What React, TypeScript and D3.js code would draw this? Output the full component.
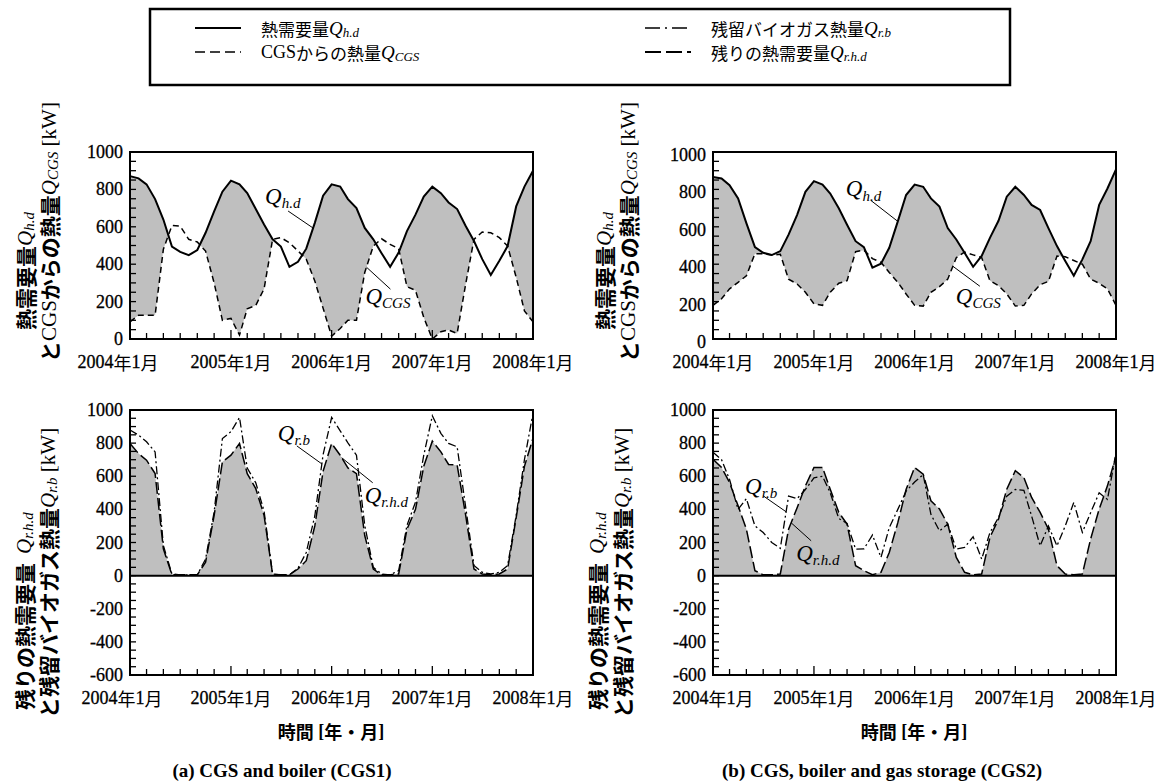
import React from 'react';
import * as d3 from 'd3';

// Monthly samples, January 2004 to January 2008 (49 points)
const months: Date[] = d3.timeMonth.range(new Date(2004, 0, 1), new Date(2008, 0, 2));
const yearLabels = ['2004', '2005', '2006', '2007', '2008'];
const topTickValues = [0, 200, 400, 600, 800, 1000];
const bottomTickValues = [-600, -400, -200, 0, 200, 400, 600, 800, 1000];

// (a) CGS and boiler
const heatDemandA = [871, 859, 827, 748, 639, 494, 466, 448, 476, 568, 683, 788, 847, 827, 780, 695, 612, 533, 494, 386, 413, 483, 621, 766, 827, 815, 748, 700, 594, 533, 459, 386, 462, 577, 665, 762, 815, 780, 730, 695, 607, 524, 427, 342, 418, 497, 709, 815, 900];
const cgsHeatA = [92, 127, 127, 127, 480, 607, 603, 533, 519, 470, 300, 100, 110, 21, 162, 180, 268, 533, 542, 515, 471, 427, 310, 165, 15, 56, 100, 100, 356, 497, 536, 506, 483, 280, 260, 115, 0, 39, 48, 30, 286, 533, 572, 568, 542, 497, 330, 150, 92];
const residualDemandA = [798, 737, 697, 616, 162, 5, 5, 5, 5, 81, 364, 687, 727, 798, 616, 525, 364, 8, 5, 5, 40, 90, 300, 630, 798, 727, 650, 616, 242, 40, 5, 5, 10, 280, 400, 660, 812, 747, 671, 667, 374, 40, 10, 5, 10, 40, 350, 660, 830];
const residualBiogasA = [879, 848, 808, 747, 182, 10, 5, 5, 5, 100, 384, 828, 869, 955, 650, 560, 390, 10, 5, 5, 45, 140, 360, 730, 955, 874, 802, 727, 303, 50, 10, 5, 30, 303, 444, 727, 965, 859, 798, 778, 424, 61, 20, 10, 20, 61, 364, 700, 980];

// (b) CGS, boiler and gas storage
const heatDemandB = [866, 858, 822, 752, 620, 491, 461, 449, 470, 558, 664, 787, 844, 826, 778, 699, 611, 523, 491, 382, 403, 488, 629, 770, 826, 814, 752, 708, 593, 532, 461, 386, 444, 541, 632, 761, 814, 770, 717, 690, 593, 497, 417, 338, 426, 523, 717, 805, 907];
const cgsHeatB = [180, 215, 268, 303, 338, 456, 456, 449, 453, 320, 294, 250, 188, 180, 250, 298, 312, 467, 475, 430, 410, 356, 303, 241, 180, 176, 250, 280, 320, 435, 465, 450, 435, 312, 285, 241, 176, 180, 241, 290, 308, 444, 440, 420, 400, 320, 298, 268, 180];
const residualDemandB = [703, 653, 562, 422, 281, 30, 5, 5, 10, 280, 410, 542, 653, 653, 522, 382, 311, 60, 30, 5, 20, 140, 320, 520, 653, 612, 452, 402, 311, 110, 20, 5, 10, 231, 341, 522, 633, 592, 472, 382, 281, 60, 10, 5, 10, 221, 402, 542, 723];
const residualBiogasB = [745, 700, 580, 400, 465, 300, 260, 200, 165, 480, 465, 520, 590, 600, 500, 345, 315, 160, 161, 245, 110, 290, 400, 510, 565, 610, 370, 270, 311, 160, 170, 235, 100, 260, 350, 480, 520, 515, 360, 180, 300, 180, 300, 442, 261, 380, 500, 460, 740];

const SERIF = "'Liberation Serif', 'Times New Roman', serif";
const GOTHIC = "'Noto Sans CJK JP', 'Noto Sans', sans-serif";
const GRAY = '#bfbfbf';

type LineStyle = { dash?: string; width: number };
const demandStyle: LineStyle = { width: 2 };
const cgsStyle: LineStyle = { dash: '6,4', width: 1.5 };
const biogasStyle: LineStyle = { dash: '8,3,2,3', width: 1.3 };
const residualStyle: LineStyle = { dash: '12,4', width: 1.5 };

interface Annotation {
  values: number[];
  month: number;
  sub: string;
  labelOffset: [number, number];
  leaderStart: [number, number];
}

interface PanelProps {
  id: string;
  left: number;
  right: number;
  top: number;
  bottom: number;
  yDomain: [number, number];
  tickValues: number[];
  upper: number[];
  lower: number[];
  upperStyle: LineStyle;
  lowerStyle: LineStyle;
  mode: 'between' | 'fromZero';
  labelShift: number;
  firstLabelShift: number;
  annotations: Annotation[];
}

function QLabel({ x, y, sub, size, subSize }: { x: number; y: number; sub: string; size: number; subSize: number }) {
  return (
    <text x={x} y={y} fontFamily={SERIF} fontStyle="italic" fontSize={size}>
      Q
      <tspan fontSize={subSize} dy={size * 0.18}>{sub}</tspan>
    </text>
  );
}

function Panel(p: PanelProps) {
  const x = d3.scaleTime().domain([months[0], months[months.length - 1]]).range([p.left, p.right]);
  const y = d3.scaleLinear().domain(p.yDomain).range([p.bottom, p.top]);
  const px = (_: number, i: number) => x(months[i]);
  const line = d3.line<number>().x(px).y((v) => y(v));

  let fillPath = '';
  let clipPath = '';
  if (p.mode === 'between') {
    // shade only where the upper series lies above the lower one
    clipPath = d3.area<number>().x(px).y0((v) => y(v)).y1(p.top)(p.lower) || '';
    fillPath = d3.area<number>().x(px).y0(y(0)).y1((v) => y(v))(p.upper) || '';
  } else {
    fillPath = d3.area<number>().x(px).y0(y(0)).y1((v) => y(v))(p.upper) || '';
  }

  const minorY = d3.range(p.yDomain[0], p.yDomain[1] + 1, 50);
  const xTicks = d3.timeMonth.every(2)!.range(months[0], d3.timeMonth.offset(months[months.length - 1], 1));

  const at = (vals: number[], m: number): [number, number] => {
    const i = Math.min(Math.floor(m), vals.length - 2);
    const t = m - i;
    const xx = x(months[i]) * (1 - t) + x(months[i + 1]) * t;
    const vv = vals[i] * (1 - t) + vals[i + 1] * t;
    return [xx, y(vv)];
  };

  return (
    <g>
      {p.mode === 'between' && (
        <clipPath id={`${p.id}-clip`}>
          <path d={clipPath} />
        </clipPath>
      )}
      <path d={fillPath} fill={GRAY} stroke="none" clipPath={p.mode === 'between' ? `url(#${p.id}-clip)` : undefined} />
      <path d={line(p.lower) || ''} fill="none" stroke="#000" strokeWidth={p.lowerStyle.width} strokeDasharray={p.lowerStyle.dash} />
      <path d={line(p.upper) || ''} fill="none" stroke="#000" strokeWidth={p.upperStyle.width} strokeDasharray={p.upperStyle.dash} />
      {p.yDomain[0] < 0 && (
        <line x1={p.left} x2={p.right} y1={y(0)} y2={y(0)} stroke="#000" strokeWidth={2} />
      )}
      {minorY.map((v) => (
        <line key={`yt${v}`} x1={p.left} x2={p.left + 6} y1={y(v)} y2={y(v)} stroke="#000" strokeWidth={1.3} />
      ))}
      {xTicks.map((d) => (
        <line
          key={`xt${d.getTime()}`}
          x1={x(d)}
          x2={x(d)}
          y1={p.bottom}
          y2={p.bottom - (d.getMonth() === 0 ? 9 : 6)}
          stroke="#000"
          strokeWidth={1.3}
        />
      ))}
      <rect x={p.left} y={p.top} width={p.right - p.left} height={p.bottom - p.top} fill="none" stroke="#000" strokeWidth={2} />
      {p.tickValues.map((v) => (
        <text
          key={`yl${v}`}
          x={p.left - 7}
          y={y(v) + p.labelShift}
          textAnchor="end"
          dominantBaseline="central"
          fontFamily={SERIF}
          fontSize={18}
          stroke="#000"
          strokeWidth={0.3}
        >
          {v}
        </text>
      ))}
      {yearLabels.map((yr, i) => (
        <text
          key={yr}
          x={x(months[i * 12]) + (i === 0 ? p.firstLabelShift : 0)}
          y={p.bottom + 23}
          textAnchor="middle"
          dominantBaseline="central"
          fontSize={18}
        >
          <tspan fontFamily={SERIF} stroke="#000" strokeWidth={0.3}>{yr}</tspan>
          <tspan fontFamily={GOTHIC}>年</tspan>
          <tspan fontFamily={SERIF} stroke="#000" strokeWidth={0.3}>1</tspan>
          <tspan fontFamily={GOTHIC}>月</tspan>
        </text>
      ))}
      {p.annotations.map((a, k) => {
        const [tx, ty] = at(a.values, a.month);
        return (
          <g key={k}>
            <line x1={tx + a.leaderStart[0]} y1={ty + a.leaderStart[1]} x2={tx} y2={ty} stroke="#000" strokeWidth={1} />
            <QLabel x={tx + a.labelOffset[0]} y={ty + a.labelOffset[1]} sub={a.sub} size={23} subSize={15} />
          </g>
        );
      })}
    </g>
  );
}

function YTitle({ cx, startY, parts }: { cx: number; startY: number; parts: React.ReactNode }) {
  return (
    <text transform={`translate(${cx},${startY}) rotate(-90)`} dominantBaseline="central" fontSize={21}>
      {parts}
    </text>
  );
}

const gothicBold = { fontFamily: GOTHIC, fontWeight: 700 } as const;
const serifItalic = { fontFamily: SERIF, fontStyle: 'italic', fontWeight: 400 } as const;
const serifPlain = { fontFamily: SERIF, fontWeight: 400 } as const;

function TopTitles({ x1, x2 }: { x1: number; x2: number }) {
  return (
    <g>
      <YTitle
        cx={x1}
        startY={330}
        parts={
          <>
            <tspan {...gothicBold}>熱需要量</tspan>
            <tspan {...serifItalic}>Q</tspan>
            <tspan {...serifItalic} fontSize={15} dy={4}>h.d</tspan>
          </>
        }
      />
      <YTitle
        cx={x2}
        startY={362}
        parts={
          <>
            <tspan {...gothicBold}>と</tspan>
            <tspan {...serifPlain}>CGS</tspan>
            <tspan {...gothicBold}>からの熱量</tspan>
            <tspan {...serifItalic}>Q</tspan>
            <tspan {...serifItalic} fontSize={15} dy={4}>CGS</tspan>
            <tspan {...serifPlain} dy={-4}> [kW]</tspan>
          </>
        }
      />
    </g>
  );
}

function BottomTitles({ x1, x2 }: { x1: number; x2: number }) {
  return (
    <g>
      <YTitle
        cx={x1}
        startY={710}
        parts={
          <>
            <tspan {...gothicBold}>残りの熱需要量</tspan>
            <tspan {...serifItalic} dx={9}>Q</tspan>
            <tspan {...serifItalic} fontSize={15} dy={4}>r.h.d</tspan>
          </>
        }
      />
      <YTitle
        cx={x2}
        startY={718}
        parts={
          <>
            <tspan {...gothicBold}>と残留バイオガス熱量</tspan>
            <tspan {...serifItalic}>Q</tspan>
            <tspan {...serifItalic} fontSize={15} dy={4}>r.b</tspan>
            <tspan {...serifPlain} dy={-4}> [kW]</tspan>
          </>
        }
      />
    </g>
  );
}

function LegendItem({ x, y, dash, width, text, sub, serifPrefix }: { x: number; y: number; dash?: string; width: number; text: string; sub: string; serifPrefix?: string }) {
  return (
    <g>
      <line x1={x} x2={x + 46} y1={y} y2={y} stroke="#000" strokeWidth={width} strokeDasharray={dash} />
      <text x={x + 66} y={y} dominantBaseline="central" fontSize={17}>
        {serifPrefix && <tspan fontFamily={SERIF} fontSize={18}>{serifPrefix}</tspan>}
        <tspan fontFamily={GOTHIC}>{text}</tspan>
        <tspan fontFamily={SERIF} fontStyle="italic" fontSize={19}>Q</tspan>
        <tspan fontFamily={SERIF} fontStyle="italic" fontSize={13} dy={4}>{sub}</tspan>
      </text>
    </g>
  );
}

function AxisName({ cx }: { cx: number }) {
  return (
    <text x={cx} y={731} textAnchor="middle" dominantBaseline="central" fontSize={18} fontWeight={700}>
      <tspan fontFamily={GOTHIC}>時間</tspan>
      <tspan fontFamily={SERIF}> [</tspan>
      <tspan fontFamily={GOTHIC}>年・月</tspan>
      <tspan fontFamily={SERIF}>]</tspan>
    </text>
  );
}

export default function App() {
  return (
    <svg
      width={1164}
      height={782}
      viewBox="0 0 1164 782"
      style={{ position: 'absolute', left: 0, top: 0, background: '#fff' }}
    >
      <rect x={0} y={0} width={1164} height={782} fill="#fff" />
      {/* legend */}
      <rect x={150} y={9} width={860} height={76} fill="#fff" stroke="#000" strokeWidth={2.5} />
      <LegendItem x={195} y={28} width={2} text="熱需要量" sub="h.d" />
      <LegendItem x={195} y={52} width={1.6} dash="10,5" serifPrefix="CGS" text="からの熱量" sub="CGS" />
      <LegendItem x={645} y={28} width={1.6} dash="15,5,2,5" text="残留バイオガス熱量" sub="r.b" />
      <LegendItem x={645} y={52} width={1.8} dash="16,5" text="残りの熱需要量" sub="r.h.d" />

      <Panel
        id="pa-top"
        left={130}
        right={533}
        top={152}
        bottom={339}
        yDomain={[0, 1000]}
        tickValues={topTickValues}
        upper={heatDemandA}
        lower={cgsHeatA}
        upperStyle={demandStyle}
        lowerStyle={cgsStyle}
        mode="between"
        labelShift={0}
        firstLabelShift={-12}
        annotations={[
          { values: heatDemandA, month: 21.8, sub: 'h.d', labelOffset: [-48, -24], leaderStart: [-25, -17] },
          { values: cgsHeatA, month: 28.2, sub: 'CGS', labelOffset: [-1, 37], leaderStart: [24, 22] },
        ]}
      />
      <Panel
        id="pb-top"
        left={713}
        right={1116}
        top={152}
        bottom={339}
        yDomain={[0, 1000]}
        tickValues={topTickValues}
        upper={heatDemandB}
        lower={cgsHeatB}
        upperStyle={demandStyle}
        lowerStyle={cgsStyle}
        mode="between"
        labelShift={3}
        firstLabelShift={0}
        annotations={[
          { values: heatDemandB, month: 22.0, sub: 'h.d', labelOffset: [-52, -25], leaderStart: [-27, -21] },
          { values: cgsHeatB, month: 28.6, sub: 'CGS', labelOffset: [3, 38], leaderStart: [27, 20] },
        ]}
      />
      <Panel
        id="pa-bot"
        left={130}
        right={533}
        top={410}
        bottom={675}
        yDomain={[-600, 1000]}
        tickValues={bottomTickValues}
        upper={residualDemandA}
        lower={residualBiogasA}
        upperStyle={residualStyle}
        lowerStyle={biogasStyle}
        mode="fromZero"
        labelShift={0}
        firstLabelShift={-8}
        annotations={[
          { values: residualBiogasA, month: 22.85, sub: 'r.b', labelOffset: [-44, -23], leaderStart: [-25, -18] },
          { values: residualDemandA, month: 25.2, sub: 'r.h.d', labelOffset: [23, 45], leaderStart: [31, 25] },
        ]}
      />
      <Panel
        id="pb-bot"
        left={713}
        right={1116}
        top={410}
        bottom={675}
        yDomain={[-600, 1000]}
        tickValues={bottomTickValues}
        upper={residualDemandB}
        lower={residualBiogasB}
        upperStyle={residualStyle}
        lowerStyle={biogasStyle}
        mode="fromZero"
        labelShift={0}
        firstLabelShift={0}
        annotations={[
          { values: residualBiogasB, month: 8.7, sub: 'r.b', labelOffset: [-41, -18], leaderStart: [-23, -16] },
          { values: residualDemandB, month: 9.3, sub: 'r.h.d', labelOffset: [5, 38], leaderStart: [20, 18] },
        ]}
      />

      <TopTitles x1={25} x2={49} />
      <TopTitles x1={604} x2={628} />
      <BottomTitles x1={24} x2={48} />
      <BottomTitles x1={597} x2={622} />

      <AxisName cx={331} />
      <AxisName cx={914} />
      <text x={282} y={770} textAnchor="middle" dominantBaseline="central" fontFamily={SERIF} fontWeight={700} fontSize={19}>
        (a) CGS and boiler (CGS1)
      </text>
      <text x={882} y={770} textAnchor="middle" dominantBaseline="central" fontFamily={SERIF} fontWeight={700} fontSize={19}>
        (b) CGS, boiler and gas storage (CGS2)
      </text>
    </svg>
  );
}
